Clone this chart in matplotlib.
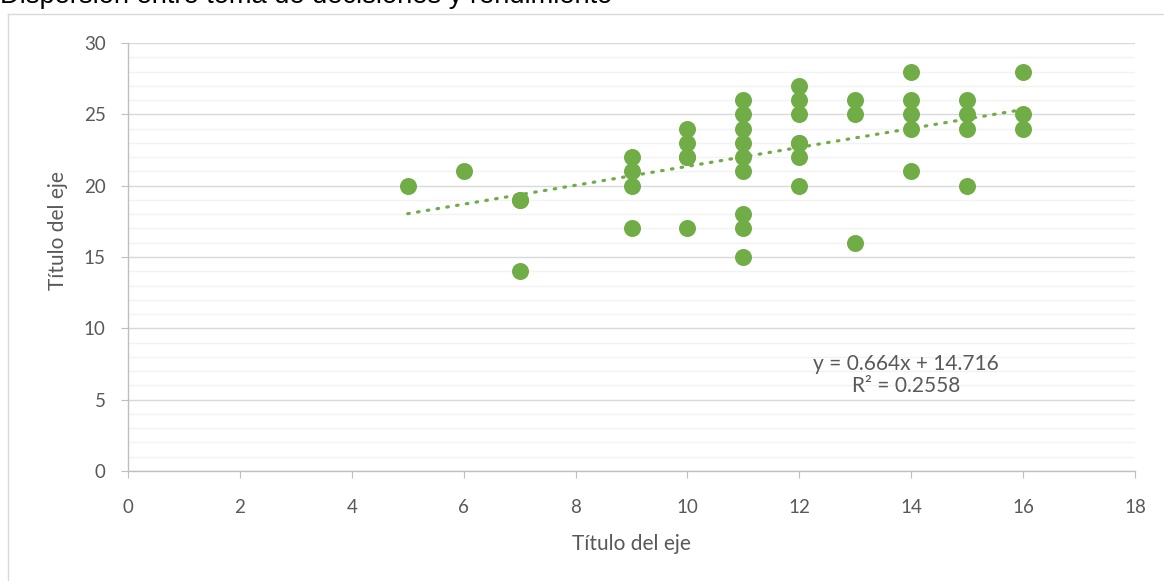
import matplotlib
matplotlib.use("Agg")
import matplotlib.pyplot as plt
from matplotlib.lines import Line2D
import numpy as np

# Data
x_vals = [5, 6, 7, 7, 7,
          9, 9, 9, 9,
          10, 10, 10, 10, 10,
          11, 11, 11, 11, 11, 11, 11, 11, 11,
          12, 12, 12, 12, 12, 12, 12,
          13, 13, 13,
          14, 14, 14, 14, 14,
          15, 15, 15, 15,
          16, 16, 16]
y_vals = [20, 21, 19, 19, 14,
          22, 21, 20, 17,
          24, 23, 22, 22, 17,
          26, 25, 24, 23, 22, 21, 18, 17, 15,
          27, 26, 25, 23, 23, 22, 20,
          26, 25, 16,
          28, 26, 25, 24, 21,
          26, 25, 24, 20,
          28, 25, 24]
trend_slope = 0.664
trend_intercept = 14.716
r_squared = 0.2558
x_ticks = [0, 2, 4, 6, 8, 10, 12, 14, 16, 18]
y_ticks = [0, 5, 10, 15, 20, 25, 30]

title = "Dispersión entre toma de decisiones y rendimiento"
x_label = "Título del eje"
y_label = "Título del eje"

green = "#70AD47"
text_col = "#595959"
font = ["Lato", "DejaVu Sans"]
plt.rcParams["font.family"] = font

W, H = 1164, 581
fig = plt.figure(figsize=(W / 100, H / 100), dpi=100)

# chart frame (left and top borders visible)
fig.add_artist(Line2D([8 / W, 8 / W], [0, 1 - 14 / H], transform=fig.transFigure,
                      color="#D9D9D9", lw=1))
fig.add_artist(Line2D([8 / W, 1], [1 - 14 / H, 1 - 14 / H], transform=fig.transFigure,
                      color="#D9D9D9", lw=1))

ax = fig.add_axes([128 / W, 1 - 471 / H, (1135 - 128) / W, (471 - 43) / H])
ax.set_xlim(0, 18)
ax.set_ylim(0, 30)

ax.set_yticks(y_ticks)
ax.set_yticks(np.arange(0, 31, 1), minor=True)
ax.set_xticks(x_ticks)
ax.grid(which="minor", axis="y", color="#F2F2F2", lw=1)
ax.grid(which="major", axis="y", color="#D9D9D9", lw=1)
ax.set_axisbelow(True)

for s in ["top", "right"]:
    ax.spines[s].set_visible(False)
for s in ["left", "bottom"]:
    ax.spines[s].set_color("#BFBFBF")
    ax.spines[s].set_linewidth(1)
ax.tick_params(which="major", length=5, color="#BFBFBF", labelcolor=text_col,
               labelsize=13.5)
ax.tick_params(axis="x", which="major", pad=15)
ax.tick_params(axis="y", which="major", pad=11)
ax.tick_params(which="minor", length=0)

ax.scatter(x_vals, y_vals, s=150, color=green, zorder=3, linewidths=0)

xt = np.array([min(x_vals), max(x_vals)])
ax.plot(xt, trend_slope * xt + trend_intercept, color=green, lw=2.3,
        linestyle=(0, (0.5, 2.6)), dash_capstyle="round", zorder=4)

ax.text(13.9, 6.75, f"y = {trend_slope}x + {trend_intercept}\nR² = {r_squared}",
        ha="center", va="center", color=text_col, fontsize=15, linespacing=1.15)

ax.set_xlabel(x_label, color=text_col, fontsize=15, va="center")
ax.xaxis.set_label_coords(0.5, -(544 - 471) / 428)
ax.set_ylabel(y_label, color=text_col, fontsize=15, va="center")
ax.yaxis.set_label_coords((58 - 128) / 1007, (471 - 231) / 428)

fig.text(0.0, 1 - 3 / H, title, ha="left", va="baseline", fontsize=19.6,
         color="#000000", family=["Liberation Sans", "DejaVu Sans"])

fig.savefig("out.png", dpi=100)
